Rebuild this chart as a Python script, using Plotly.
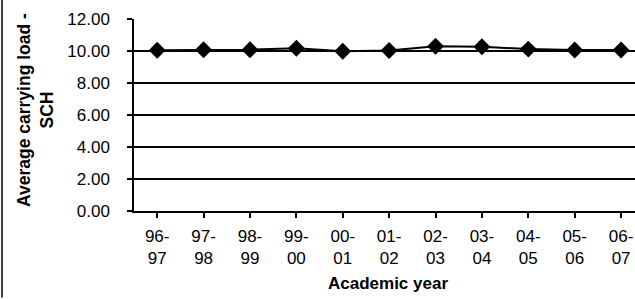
import plotly.graph_objects as go

years = ["96-<br>97", "97-<br>98", "98-<br>99", "99-<br>00", "00-<br>01", "01-<br>02",
         "02-<br>03", "03-<br>04", "04-<br>05", "05-<br>06", "06-<br>07"]
load = [10.05, 10.08, 10.08, 10.17, 9.98, 10.03, 10.3, 10.27, 10.12, 10.06, 10.06]
y_ticks = [0, 2, 4, 6, 8, 10, 12]

FONT = "Liberation Sans, Arial, sans-serif"

fig = go.Figure()
fig.add_trace(go.Scatter(
    x=list(range(len(years))), y=load, mode="lines+markers",
    line=dict(color="black", width=2),
    marker=dict(symbol="diamond", size=13, color="black"),
    showlegend=False, cliponaxis=False,
))

fig.update_layout(
    width=635, height=299,
    margin=dict(l=134, r=0, t=19, b=88),
    paper_bgcolor="white", plot_bgcolor="white",
    font=dict(family=FONT, size=17, color="black"),
    xaxis=dict(
        tickmode="array", tickvals=list(range(len(years))), ticktext=years,
        range=[-0.5, 10.3], showgrid=False, zeroline=False,
        showline=True, linecolor="black", linewidth=1.5,
        ticks="outside", ticklen=5, tickcolor="black", tickwidth=1.5,
        ticklabelstandoff=4,
    ),
    yaxis=dict(
        range=[0, 12], tickvals=y_ticks, tickformat=".2f",
        showgrid=True, gridcolor="black", gridwidth=1.5,
        zeroline=False, showline=True, linecolor="black", linewidth=1.5,
        ticks="outside", ticklen=5, tickcolor="black", tickwidth=1.5,
        ticklabelstandoff=14,
    ),
    annotations=[
        dict(text="<b>Academic year</b>", xref="paper", yref="paper",
             x=0.5, y=0, xanchor="center", yanchor="middle", yshift=-72, xshift=3,
             showarrow=False, font=dict(size=17, family=FONT)),
        dict(text="<b>Average carrying load -<br>SCH</b>", xref="paper", yref="paper",
             x=0, y=0.5, xanchor="center", yanchor="middle", xshift=-99, yshift=5,
             textangle=-90, showarrow=False, font=dict(size=17.5, family=FONT)),
    ],
    shapes=[
        dict(type="line", xref="paper", yref="paper", xsizemode="pixel", xanchor=0,
             x0=-132, x1=-132, y0=-0.45, y1=1.1, line=dict(color="black", width=1.5)),
    ],
)

fig.write_html("out.html", config={"displayModeBar": False})

with open("out.html", "r", encoding="utf-8") as f:
    html = f.read()
html = html.replace("<body>", '<body style="margin:0;padding:0;overflow:hidden">', 1)
with open("out.html", "w", encoding="utf-8") as f:
    f.write(html)
